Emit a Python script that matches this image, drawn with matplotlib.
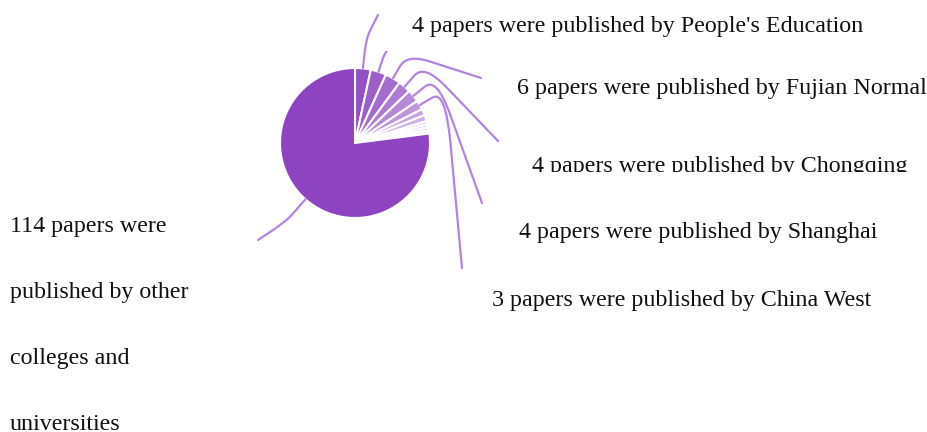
"""
Pie of papers by publisher, with curved leader lines and serif labels.
"""
import matplotlib
matplotlib.use('Agg')

import numpy as np
import matplotlib.pyplot as plt
from matplotlib.colors import LinearSegmentedColormap
from matplotlib.patches import PathPatch, Rectangle
from matplotlib.path import Path

# Slices, clockwise from 12 o'clock; the large "other" slice comes last
publishers = [
    "People's Education", "", "Fujian Normal", "Chongqing", "Shanghai", "China West",
    "", "", "", "", "", "",
]
papers = [5, 5, 5, 4, 4, 3, 2, 2, 1, 1, 1, 1]
other_papers = 114

# Visible label texts and where they sit (pixel layout)
label_texts = [
    "4 papers were published by People's Education",
    "6 papers were published by Fujian Normal",
    "4 papers were published by Chongqing",
    "4 papers were published by Shanghai",
    "3 papers were published by China West",
]
label_pos = [(412, 32), (517, 94), (532, 172), (519, 238), (492, 306)]
other_lines = ["114 papers were", "published by other", "colleges and", "universities"]
other_baselines = [232, 298, 364, 430]

# Leader line end points for the first six slices (pixel layout)
line_ends = [(378, 15), (420, 30), (481, 78), (498, 141), (482, 203), (462, 268)]
line_len1 = [30, 26, 28, 30, 30, 30]
other_line_end = (258, 240)

CENTER = (355, 143)
RADIUS = 75
PURPLE = "#8e44c1"
LINE_COLOR = "#b383e2"
FONT = "Liberation Serif"
FS = 17.3

fig = plt.figure(figsize=(9.28, 4.32), dpi=100)
ax = fig.add_axes([0, 0, 1, 1])

cmap = LinearSegmentedColormap.from_list("lav", ["#9350c6", "#f3eafb"])
n = len(papers)
colors = [cmap(i / (n - 1)) for i in range(n)] + [PURPLE]

# y axis is flipped, so counterclock=True runs clockwise on screen
wedges, _ = ax.pie(
    papers + [other_papers],
    colors=colors,
    startangle=-90,
    counterclock=True,
    center=CENTER,
    radius=RADIUS,
    wedgeprops=dict(edgecolor="white", linewidth=1.5),
    frame=True,
)
ax.set_xlim(0, 928)
ax.set_ylim(432, 0)
ax.set_aspect("equal")
ax.axis("off")


def leader(wedge, end, len1, f1=0.5, f2=0.3):
    """Radial segment, then a rounded turn towards the label."""
    mid = np.deg2rad((wedge.theta1 + wedge.theta2) / 2)
    d = np.array([np.cos(mid), np.sin(mid)])
    c = np.array(CENTER)
    p0 = c + d * RADIUS
    bend = c + d * (RADIUS + len1)
    end = np.array(end, dtype=float)
    a = p0 + (bend - p0) * (1 - f1)
    b = bend + (end - bend) * f2
    verts = [p0, a, bend, b, end]
    codes = [Path.MOVETO, Path.LINETO, Path.CURVE3, Path.CURVE3, Path.LINETO]
    ax.add_patch(PathPatch(Path([tuple(v) for v in verts], codes), fill=False,
                           edgecolor=LINE_COLOR, linewidth=1.6, zorder=1,
                           capstyle="round"))


for w, end, l1 in zip(wedges, line_ends, line_len1):
    leader(w, end, l1)
leader(wedges[-1], other_line_end, 30, f1=0.3, f2=0.6)

# white label box that hides the crowded labels
ax.add_patch(Rectangle((383, 0), 122, 51, facecolor="white", edgecolor="none", zorder=3))

for text, (x, y) in zip(label_texts, label_pos):
    ax.text(x, y, text, fontsize=FS, family=FONT, color="#111111",
            ha="left", va="baseline", zorder=4)

# bottom of the Chongqing label is clipped by the next label box
ax.add_patch(Rectangle((505, 172), 420, 30, facecolor="white", edgecolor="none", zorder=5))

for text, y in zip(other_lines, other_baselines):
    ax.text(10, y, text, fontsize=FS, family=FONT, color="#111111",
            ha="left", va="baseline", zorder=4)

fig.savefig("out.png", dpi=100)
